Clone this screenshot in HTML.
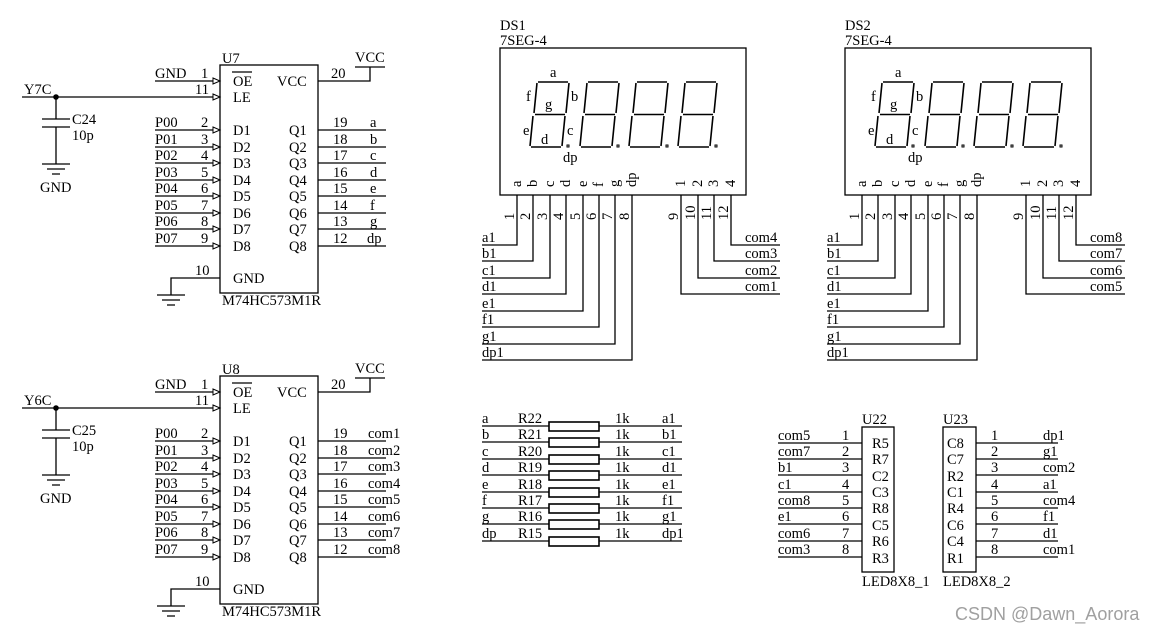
<!DOCTYPE html>
<html><head><meta charset="utf-8"><style>
html,body{margin:0;padding:0;background:#fff;}
svg{display:block;}
text{font-family:"Liberation Serif",serif;font-size:14.5px;fill:#000;}
.w{font-family:"Liberation Sans",sans-serif;font-size:18px;fill:#a0a0a0;}
</style></head><body>
<svg width="1156" height="632" viewBox="0 0 1156 632" xmlns="http://www.w3.org/2000/svg">
<defs>
<g id="chipg" stroke="#000" stroke-width="1.3" fill="none">
<rect x="220" y="65" width="98" height="228"/>
<line x1="155" y1="81" x2="213" y2="81"/><line x1="22" y1="97" x2="213" y2="97"/>
<line x1="155" y1="130" x2="213" y2="130"/><line x1="155" y1="147" x2="213" y2="147"/>
<line x1="155" y1="163" x2="213" y2="163"/><line x1="155" y1="180" x2="213" y2="180"/>
<line x1="155" y1="196" x2="213" y2="196"/><line x1="155" y1="213" x2="213" y2="213"/>
<line x1="155" y1="229" x2="213" y2="229"/><line x1="155" y1="246" x2="213" y2="246"/>
<path d="M213 78l7 3-7 3z M213 94l7 3-7 3z M213 127l7 3-7 3z M213 144l7 3-7 3z M213 160l7 3-7 3z M213 177l7 3-7 3z M213 193l7 3-7 3z M213 210l7 3-7 3z M213 226l7 3-7 3z M213 243l7 3-7 3z" stroke-width="1"/>
<path d="M318 81H370V67 M355 67H385"/>
<line x1="318" y1="130" x2="386" y2="130"/><line x1="318" y1="147" x2="386" y2="147"/>
<line x1="318" y1="163" x2="386" y2="163"/><line x1="318" y1="180" x2="386" y2="180"/>
<line x1="318" y1="196" x2="386" y2="196"/><line x1="318" y1="213" x2="386" y2="213"/>
<line x1="318" y1="229" x2="386" y2="229"/><line x1="318" y1="246" x2="386" y2="246"/>
<path d="M220 278H171V295 M157 295H185 M162 300H180 M167 305H175"/>
<path d="M56 97V119 M42 119H70 M42 127H70 M56 127V164 M42 164H70 M47 169H65 M52 174H60"/>
<path d="M232 72H252"/>
</g>
<g id="dsg" stroke="#000" stroke-width="1.3" fill="none">
<rect x="500" y="48" width="246" height="147"/>
<path d="M517 195V245H482 M533 195V261H482 M550 195V278H482 M566 195V294H482 M583 195V311H482 M599 195V327H482 M615 195V344H482 M632 195V360H482"/>
<path d="M731 195V245H780 M714 195V261H780 M698 195V278H780 M681 195V294H780"/>
<g stroke-width="1.6">
<path d="M538 82H568 M569 83L566 113 M565 116L562 146 M561 147H531 M530 146L533 116 M534 113L537 83 M535 114.5H565"/>
<path d="M588 82H618 M619 83L616 113 M615 116L612 146 M611 147H581 M580 146L583 116 M584 113L587 83 M585 114.5H615"/>
<path d="M637 82H667 M668 83L665 113 M664 116L661 146 M660 147H630 M629 146L632 116 M633 113L636 83 M634 114.5H664"/>
<path d="M686 82H716 M717 83L714 113 M713 116L710 146 M709 147H679 M678 146L681 116 M682 113L685 83 M683 114.5H713"/>
</g>
<g stroke-width="1"><rect x="567" y="145" width="2" height="2"/><rect x="617" y="145" width="2" height="2"/><rect x="666" y="145" width="2" height="2"/><rect x="715" y="145" width="2" height="2"/></g>
</g>
</defs>

<!-- U7 -->
<use href="#chipg"/>
<text x="222" y="63">U7</text>
<text x="233" y="86">OE</text><text x="277" y="86">VCC</text><text x="233" y="102">LE</text>
<text x="233" y="135">D1</text><text x="233" y="152">D2</text><text x="233" y="168">D3</text><text x="233" y="185">D4</text><text x="233" y="201">D5</text><text x="233" y="218">D6</text><text x="233" y="234">D7</text><text x="233" y="251">D8</text>
<text x="289" y="135">Q1</text><text x="289" y="152">Q2</text><text x="289" y="168">Q3</text><text x="289" y="185">Q4</text><text x="289" y="201">Q5</text><text x="289" y="218">Q6</text><text x="289" y="234">Q7</text><text x="289" y="251">Q8</text>
<text x="233" y="283">GND</text><text x="222" y="305">M74HC573M1R</text>
<text x="155" y="78">GND</text><text x="201" y="78">1</text><text x="195" y="94">11</text><text x="24" y="94">Y7C</text>
<text x="155" y="127">P00</text><text x="155" y="144">P01</text><text x="155" y="160">P02</text><text x="155" y="177">P03</text><text x="155" y="193">P04</text><text x="155" y="210">P05</text><text x="155" y="226">P06</text><text x="155" y="243">P07</text>
<text x="201" y="127">2</text><text x="201" y="144">3</text><text x="201" y="160">4</text><text x="201" y="177">5</text><text x="201" y="193">6</text><text x="201" y="210">7</text><text x="201" y="226">8</text><text x="201" y="243">9</text>
<text x="331" y="78">20</text><text x="355" y="62">VCC</text>
<text x="333" y="127">19</text><text x="333" y="144">18</text><text x="333" y="160">17</text><text x="333" y="177">16</text><text x="333" y="193">15</text><text x="333" y="210">14</text><text x="333" y="226">13</text><text x="333" y="243">12</text>
<text x="370" y="127">a</text><text x="370" y="144">b</text><text x="370" y="160">c</text><text x="370" y="177">d</text><text x="370" y="193">e</text><text x="370" y="210">f</text><text x="370" y="226">g</text><text x="367" y="243">dp</text>
<text x="195" y="275">10</text>
<text x="72" y="124">C24</text><text x="72" y="140">10p</text><text x="40" y="192">GND</text>

<!-- U8 -->
<use href="#chipg" transform="translate(0,311)"/>
<g transform="translate(0,311)">
<text x="222" y="63">U8</text>
<text x="233" y="86">OE</text><text x="277" y="86">VCC</text><text x="233" y="102">LE</text>
<text x="233" y="135">D1</text><text x="233" y="152">D2</text><text x="233" y="168">D3</text><text x="233" y="185">D4</text><text x="233" y="201">D5</text><text x="233" y="218">D6</text><text x="233" y="234">D7</text><text x="233" y="251">D8</text>
<text x="289" y="135">Q1</text><text x="289" y="152">Q2</text><text x="289" y="168">Q3</text><text x="289" y="185">Q4</text><text x="289" y="201">Q5</text><text x="289" y="218">Q6</text><text x="289" y="234">Q7</text><text x="289" y="251">Q8</text>
<text x="233" y="283">GND</text><text x="222" y="305">M74HC573M1R</text>
<text x="155" y="78">GND</text><text x="201" y="78">1</text><text x="195" y="94">11</text><text x="24" y="94">Y6C</text>
<text x="155" y="127">P00</text><text x="155" y="144">P01</text><text x="155" y="160">P02</text><text x="155" y="177">P03</text><text x="155" y="193">P04</text><text x="155" y="210">P05</text><text x="155" y="226">P06</text><text x="155" y="243">P07</text>
<text x="201" y="127">2</text><text x="201" y="144">3</text><text x="201" y="160">4</text><text x="201" y="177">5</text><text x="201" y="193">6</text><text x="201" y="210">7</text><text x="201" y="226">8</text><text x="201" y="243">9</text>
<text x="331" y="78">20</text><text x="355" y="62">VCC</text>
<text x="333" y="127">19</text><text x="333" y="144">18</text><text x="333" y="160">17</text><text x="333" y="177">16</text><text x="333" y="193">15</text><text x="333" y="210">14</text><text x="333" y="226">13</text><text x="333" y="243">12</text>
<text x="368" y="127">com1</text><text x="368" y="144">com2</text><text x="368" y="160">com3</text><text x="368" y="177">com4</text><text x="368" y="193">com5</text><text x="368" y="210">com6</text><text x="368" y="226">com7</text><text x="368" y="243">com8</text>
<text x="195" y="275">10</text>
<text x="72" y="124">C25</text><text x="72" y="140">10p</text><text x="40" y="192">GND</text>
</g>

<circle cx="56" cy="97" r="2.8" fill="#000"/>
<circle cx="56" cy="408" r="2.8" fill="#000"/>

<!-- DS1 -->
<use href="#dsg"/>
<use href="#dsg" transform="translate(345,0)"/>
<g>
<text x="500" y="30">DS1</text><text x="500" y="45">7SEG-4</text>
<text x="550" y="77">a</text><text x="526" y="101">f</text><text x="571" y="101">b</text><text x="545" y="109">g</text><text x="523" y="135">e</text><text x="567" y="135">c</text><text x="541" y="144">d</text><text x="563" y="162">dp</text>
<text transform="translate(521,187) rotate(-90)">a</text><text transform="translate(537,187) rotate(-90)">b</text><text transform="translate(554,187) rotate(-90)">c</text><text transform="translate(570,187) rotate(-90)">d</text><text transform="translate(587,187) rotate(-90)">e</text><text transform="translate(603,187) rotate(-90)">f</text><text transform="translate(619,187) rotate(-90)">g</text><text transform="translate(636,187) rotate(-90)">dp</text>
<text transform="translate(685,187) rotate(-90)">1</text><text transform="translate(702,187) rotate(-90)">2</text><text transform="translate(718,187) rotate(-90)">3</text><text transform="translate(735,187) rotate(-90)">4</text>
<text transform="translate(514,220) rotate(-90)">1</text><text transform="translate(530,220) rotate(-90)">2</text><text transform="translate(547,220) rotate(-90)">3</text><text transform="translate(563,220) rotate(-90)">4</text><text transform="translate(580,220) rotate(-90)">5</text><text transform="translate(596,220) rotate(-90)">6</text><text transform="translate(612,220) rotate(-90)">7</text><text transform="translate(629,220) rotate(-90)">8</text>
<text transform="translate(678,220) rotate(-90)">9</text><text transform="translate(695,220) rotate(-90)">10</text><text transform="translate(711,220) rotate(-90)">11</text><text transform="translate(728,220) rotate(-90)">12</text>
<text x="482" y="242">a1</text><text x="482" y="258">b1</text><text x="482" y="275">c1</text><text x="482" y="291">d1</text><text x="482" y="308">e1</text><text x="482" y="324">f1</text><text x="482" y="341">g1</text><text x="482" y="357">dp1</text>
</g>
<text x="745" y="242">com4</text><text x="745" y="258">com3</text><text x="745" y="275">com2</text><text x="745" y="291">com1</text>
<!-- DS2 -->
<g transform="translate(345,0)">
<text x="500" y="30">DS2</text><text x="500" y="45">7SEG-4</text>
<text x="550" y="77">a</text><text x="526" y="101">f</text><text x="571" y="101">b</text><text x="545" y="109">g</text><text x="523" y="135">e</text><text x="567" y="135">c</text><text x="541" y="144">d</text><text x="563" y="162">dp</text>
<text transform="translate(521,187) rotate(-90)">a</text><text transform="translate(537,187) rotate(-90)">b</text><text transform="translate(554,187) rotate(-90)">c</text><text transform="translate(570,187) rotate(-90)">d</text><text transform="translate(587,187) rotate(-90)">e</text><text transform="translate(603,187) rotate(-90)">f</text><text transform="translate(619,187) rotate(-90)">g</text><text transform="translate(636,187) rotate(-90)">dp</text>
<text transform="translate(685,187) rotate(-90)">1</text><text transform="translate(702,187) rotate(-90)">2</text><text transform="translate(718,187) rotate(-90)">3</text><text transform="translate(735,187) rotate(-90)">4</text>
<text transform="translate(514,220) rotate(-90)">1</text><text transform="translate(530,220) rotate(-90)">2</text><text transform="translate(547,220) rotate(-90)">3</text><text transform="translate(563,220) rotate(-90)">4</text><text transform="translate(580,220) rotate(-90)">5</text><text transform="translate(596,220) rotate(-90)">6</text><text transform="translate(612,220) rotate(-90)">7</text><text transform="translate(629,220) rotate(-90)">8</text>
<text transform="translate(678,220) rotate(-90)">9</text><text transform="translate(695,220) rotate(-90)">10</text><text transform="translate(711,220) rotate(-90)">11</text><text transform="translate(728,220) rotate(-90)">12</text>
<text x="482" y="242">a1</text><text x="482" y="258">b1</text><text x="482" y="275">c1</text><text x="482" y="291">d1</text><text x="482" y="308">e1</text><text x="482" y="324">f1</text><text x="482" y="341">g1</text><text x="482" y="357">dp1</text>
<text x="745" y="242">com8</text><text x="745" y="258">com7</text><text x="745" y="275">com6</text><text x="745" y="291">com5</text>
</g>

<!-- Resistors -->
<g stroke="#000" stroke-width="1.3" fill="none">
<path d="M482 426H549 M599 426H682 M482 442H549 M599 442H682 M482 459H549 M599 459H682 M482 475H549 M599 475H682 M482 492H549 M599 492H682 M482 508H549 M599 508H682 M482 524H549 M599 524H682 M482 541H549 M599 541H682"/>
<g stroke-width="1.6">
<rect x="549" y="422" width="50" height="9"/><rect x="549" y="438" width="50" height="9"/><rect x="549" y="455" width="50" height="9"/><rect x="549" y="471" width="50" height="9"/><rect x="549" y="488" width="50" height="9"/><rect x="549" y="504" width="50" height="9"/><rect x="549" y="520" width="50" height="9"/><rect x="549" y="537" width="50" height="9"/>
</g>
</g>
<text x="482" y="423">a</text><text x="482" y="439">b</text><text x="482" y="456">c</text><text x="482" y="472">d</text><text x="482" y="489">e</text><text x="482" y="505">f</text><text x="482" y="521">g</text><text x="482" y="538">dp</text>
<text x="518" y="423">R22</text><text x="518" y="439">R21</text><text x="518" y="456">R20</text><text x="518" y="472">R19</text><text x="518" y="489">R18</text><text x="518" y="505">R17</text><text x="518" y="521">R16</text><text x="518" y="538">R15</text>
<text x="615" y="423">1k</text><text x="615" y="439">1k</text><text x="615" y="456">1k</text><text x="615" y="472">1k</text><text x="615" y="489">1k</text><text x="615" y="505">1k</text><text x="615" y="521">1k</text><text x="615" y="538">1k</text>
<text x="662" y="423">a1</text><text x="662" y="439">b1</text><text x="662" y="456">c1</text><text x="662" y="472">d1</text><text x="662" y="489">e1</text><text x="662" y="505">f1</text><text x="662" y="521">g1</text><text x="662" y="538">dp1</text>

<!-- U22 / U23 -->
<g stroke="#000" stroke-width="1.3" fill="none">
<rect x="862" y="427" width="32" height="145"/>
<rect x="943" y="427" width="33" height="145"/>
<path d="M778 443H862 M778 459H862 M778 475H862 M778 492H862 M778 508H862 M778 524H862 M778 541H862 M778 557H862"/>
<path d="M976 443H1058 M976 459H1058 M976 475H1058 M976 492H1058 M976 508H1058 M976 524H1058 M976 541H1058 M976 557H1058"/>
</g>
<text x="862" y="424">U22</text><text x="943" y="424">U23</text>
<text x="862" y="586">LED8X8_1</text><text x="943" y="586">LED8X8_2</text>
<text x="778" y="440">com5</text><text x="778" y="456">com7</text><text x="778" y="472">b1</text><text x="778" y="489">c1</text><text x="778" y="505">com8</text><text x="778" y="521">e1</text><text x="778" y="538">com6</text><text x="778" y="554">com3</text>
<text x="842" y="440">1</text><text x="842" y="456">2</text><text x="842" y="472">3</text><text x="842" y="489">4</text><text x="842" y="505">5</text><text x="842" y="521">6</text><text x="842" y="538">7</text><text x="842" y="554">8</text>
<text x="872" y="448">R5</text><text x="872" y="464">R7</text><text x="872" y="481">C2</text><text x="872" y="497">C3</text><text x="872" y="513">R8</text><text x="872" y="530">C5</text><text x="872" y="546">R6</text><text x="872" y="563">R3</text>
<text x="947" y="448">C8</text><text x="947" y="464">C7</text><text x="947" y="481">R2</text><text x="947" y="497">C1</text><text x="947" y="513">R4</text><text x="947" y="530">C6</text><text x="947" y="546">C4</text><text x="947" y="563">R1</text>
<text x="991" y="440">1</text><text x="991" y="456">2</text><text x="991" y="472">3</text><text x="991" y="489">4</text><text x="991" y="505">5</text><text x="991" y="521">6</text><text x="991" y="538">7</text><text x="991" y="554">8</text>
<text x="1043" y="440">dp1</text><text x="1043" y="456">g1</text><text x="1043" y="472">com2</text><text x="1043" y="489">a1</text><text x="1043" y="505">com4</text><text x="1043" y="521">f1</text><text x="1043" y="538">d1</text><text x="1043" y="554">com1</text>

<text class="w" x="955" y="620">CSDN @Dawn_Aorora</text>
</svg>
</body></html>
